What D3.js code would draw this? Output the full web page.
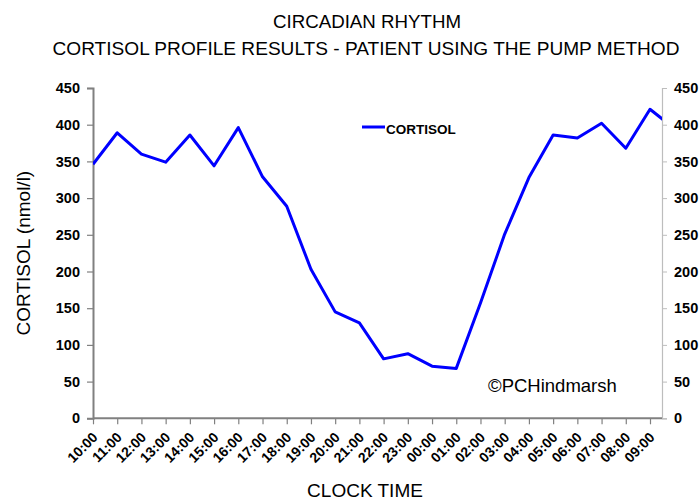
<!DOCTYPE html>
<html>
<head>
<meta charset="utf-8">
<script src="https://cdn.jsdelivr.net/npm/d3@7"></script>
<style>
  body { margin: 0; background: #fff; }
  svg { font-family: Arial, "Liberation Sans", sans-serif; }
</style>
</head>
<body>
<div id="chart"></div>
<script>
// clock times (24h profile starting 10:00)
var clock_times = ["10:00","11:00","12:00","13:00","14:00","15:00","16:00","17:00","18:00","19:00","20:00","21:00",
    "22:00","23:00","00:00","01:00","02:00","03:00","04:00","05:00","06:00","07:00","08:00","09:00"];
// cortisol nmol/l, last value is next 10:00 (runs off the plot edge)
var cortisol = [346, 389, 360, 349, 386, 344, 396, 329, 289, 203, 145, 130,
    81, 88, 71, 68, 157, 251, 328, 386, 382, 402, 368, 421, 395];
var y_ticks = [0, 50, 100, 150, 200, 250, 300, 350, 400, 450];

const W = 699, H = 500;
const plot = { left: 93, right: 662, top: 88, bottom: 418.3 };

const svg = d3.select("#chart").append("svg")
    .attr("width", W)
    .attr("height", H);

var x = d3.scaleLinear()
    .domain([0, clock_times.length - 1])
    .range([plot.left, 650]);

var y = d3.scaleLinear()
    .domain([0, 450])
    .range([plot.bottom, plot.top]);

// titles
svg.append("text")
    .attr("x", 367).attr("y", 28)
    .attr("text-anchor", "middle")
    .style("font-size", "18px")
    .attr("textLength", 188).attr("lengthAdjust", "spacingAndGlyphs")
    .text("CIRCADIAN RHYTHM");
svg.append("text")
    .attr("x", 366).attr("y", 55)
    .attr("text-anchor", "middle")
    .style("font-size", "18px")
    .attr("textLength", 627).attr("lengthAdjust", "spacingAndGlyphs")
    .text("CORTISOL PROFILE RESULTS - PATIENT USING THE PUMP METHOD");

// axis titles
svg.append("text")
    .attr("transform", "translate(30," + ((plot.top + plot.bottom) / 2) + ") rotate(-90)")
    .attr("text-anchor", "middle")
    .style("font-size", "19px")
    .text("CORTISOL (nmol/l)");
svg.append("text")
    .attr("x", 365).attr("y", 497)
    .attr("text-anchor", "middle")
    .style("font-size", "19px")
    .text("CLOCK TIME");

// clip for the series
svg.append("clipPath").attr("id", "plot_clip")
    .append("rect")
    .attr("x", plot.left).attr("y", plot.top - 10)
    .attr("width", plot.right - plot.left)
    .attr("height", plot.bottom - plot.top + 10);

// left axis
const left_axis = svg.append("g")
    .attr("transform", "translate(" + plot.left + ",0)")
    .call(d3.axisLeft(y).tickValues(y_ticks).tickSize(6).tickPadding(7));
left_axis.select(".domain").attr("stroke", "#808080").attr("stroke-width", 2);
left_axis.selectAll(".tick line").attr("stroke", "#808080").attr("stroke-width", 1.2);
left_axis.selectAll("text").style("font-size", "14.5px").style("font-weight", "bold").attr("fill", "#000");

// right axis
const right_axis = svg.append("g")
    .attr("transform", "translate(" + plot.right + ",0)")
    .call(d3.axisRight(y).tickValues(y_ticks).tickSize(5).tickPadding(7));
right_axis.select(".domain").attr("stroke", "#bdbdbd").attr("stroke-width", 1.2);
right_axis.selectAll(".tick line").attr("stroke", "#bdbdbd");
right_axis.selectAll("text").style("font-size", "14.5px").style("font-weight", "bold").attr("fill", "#000");

// bottom axis
const bottom_axis = svg.append("g")
    .attr("transform", "translate(0," + plot.bottom + ")")
    .call(d3.axisBottom(x)
        .tickValues(d3.range(clock_times.length))
        .tickFormat(i => clock_times[i])
        .tickSize(6)
        .tickSizeOuter(0));
bottom_axis.select(".domain").attr("d", "M" + plot.left + ",0H" + plot.right)
    .attr("stroke", "#808080").attr("stroke-width", 2);
bottom_axis.selectAll(".tick line").attr("stroke", "#808080").attr("stroke-width", 1.2);
bottom_axis.selectAll("text")
    .style("font-size", "14px").style("font-weight", "bold").attr("fill", "#000")
    .style("text-anchor", "end")
    .attr("y", 0).attr("dy", 0)
    .attr("transform", "translate(5,20) rotate(-45)");

// series line
const line = d3.line()
    .x((d, i) => x(i))
    .y(d => y(d));

svg.append("path")
    .datum(cortisol)
    .attr("clip-path", "url(#plot_clip)")
    .attr("fill", "none")
    .attr("stroke", "#0000ff")
    .attr("stroke-width", 3)
    .attr("stroke-linejoin", "round")
    .attr("d", line);

// legend
svg.append("line")
    .attr("x1", 362).attr("x2", 385)
    .attr("y1", 127).attr("y2", 127)
    .attr("stroke", "#0000ff").attr("stroke-width", 3);
svg.append("text")
    .attr("x", 386).attr("y", 133.5)
    .style("font-size", "13.5px").style("font-weight", "bold")
    .text("CORTISOL");

// copyright
svg.append("text")
    .attr("x", 488).attr("y", 392)
    .style("font-size", "18.5px")
    .text("©PCHindmarsh");
</script>
</body>
</html>
